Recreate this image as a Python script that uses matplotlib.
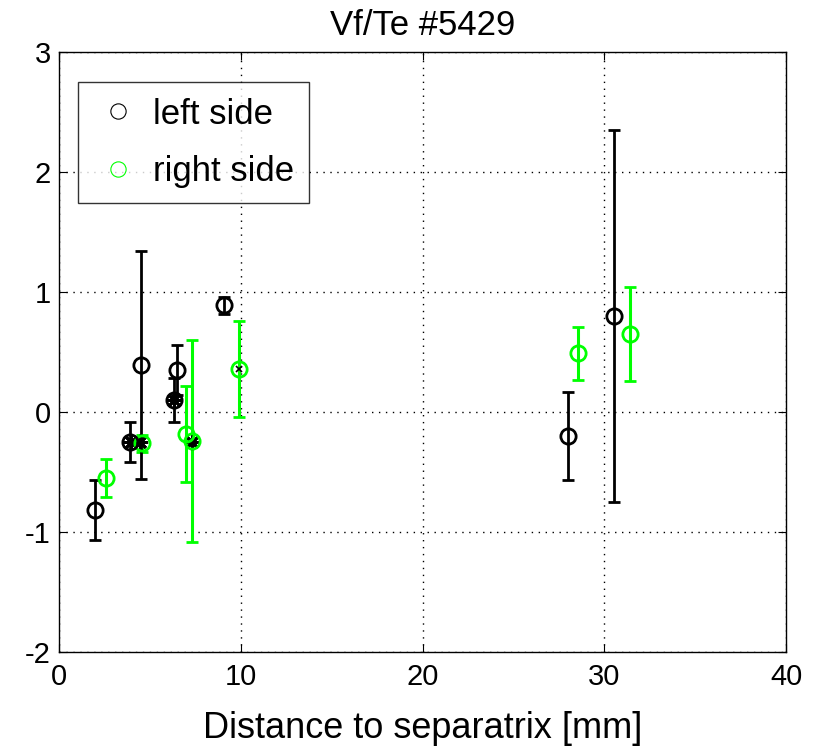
import numpy as np
import matplotlib
matplotlib.use("Agg")
import matplotlib.pyplot as plt
from matplotlib.lines import Line2D

plt.rcParams['font.family'] = ['Liberation Sans', 'DejaVu Sans']
plt.rcParams['axes.unicode_minus'] = False

# left side probe: distance [mm], Vf/Te, error
left_x = [2.0, 3.9, 4.5, 6.35, 6.5, 9.05, 28.0, 30.5]
left_y = [-0.82, -0.25, 0.39, 0.10, 0.35, 0.89, -0.20, 0.80]
left_err = [0.25, 0.17, 0.95, 0.18, 0.21, 0.07, 0.37, 1.55]

# right side probe
right_x = [2.6, 4.55, 7.0, 7.3, 9.9, 28.55, 31.4]
right_y = [-0.55, -0.26, -0.18, -0.24, 0.36, 0.49, 0.65]
right_err = [0.16, 0.07, 0.40, 0.84, 0.40, 0.22, 0.39]

# extra black asterisk / cross markers
star_x = [3.95, 4.45, 6.3, 7.3]
star_y = [-0.25, -0.25, 0.10, -0.25]
cross_x = [9.9]
cross_y = [0.36]

green = (0, 1, 0)

fig = plt.figure(figsize=(8.19, 7.52), dpi=100)
ax = fig.add_axes([0.072, 0.133, 0.888, 0.798])

ax.errorbar(right_x, right_y, yerr=right_err, fmt='o', color=green, mfc='none',
            mec=green, ms=11, mew=2, elinewidth=2.2, capsize=4, capthick=2.2)
ax.errorbar(left_x, left_y, yerr=left_err, fmt='o', color='k', mfc='none',
            mec='k', ms=11, mew=2, elinewidth=2, capsize=4, capthick=2)
ax.plot(star_x, star_y, ls='none', marker=(8, 2, 0), color='k', ms=11, mew=2)
ax.plot(cross_x, cross_y, 'x', color='k', ms=5, mew=1.2)

ax.set_xlim(0, 40)
ax.set_ylim(-2, 3)
ax.set_xticks([0, 10, 20, 30, 40])
ax.set_yticks([-2, -1, 0, 1, 2, 3])
ax.grid(True, color='k', linestyle=(0, (1, 4)), linewidth=1)
ax.tick_params(direction='in', labelsize=21, length=6, top=True, right=True)
ax.tick_params(axis='x', pad=8)
ax.tick_params(axis='y', pad=6)
for s in ax.spines.values():
    s.set_linewidth(1)

ax.set_title('Vf/Te #5429', fontsize=25, pad=12)
ax.set_xlabel('Distance to separatrix [mm]', fontsize=26, labelpad=14)

handles = [Line2D([], [], ls='none', marker='o', ms=11, mfc='none', mec='k', mew=0.8),
           Line2D([], [], ls='none', marker='o', ms=11, mfc='none', mec=green, mew=0.8)]
leg = ax.legend(handles, ['left side', 'right side'], loc='upper left',
                bbox_to_anchor=(0.026, 0.95), fontsize=25, frameon=True,
                fancybox=False, edgecolor='k', borderpad=0.45, handlelength=1.4,
                handletextpad=0.3, labelspacing=0.7, borderaxespad=0)
leg.get_frame().set_linewidth(1)

fig.savefig('out.png', dpi=100)
